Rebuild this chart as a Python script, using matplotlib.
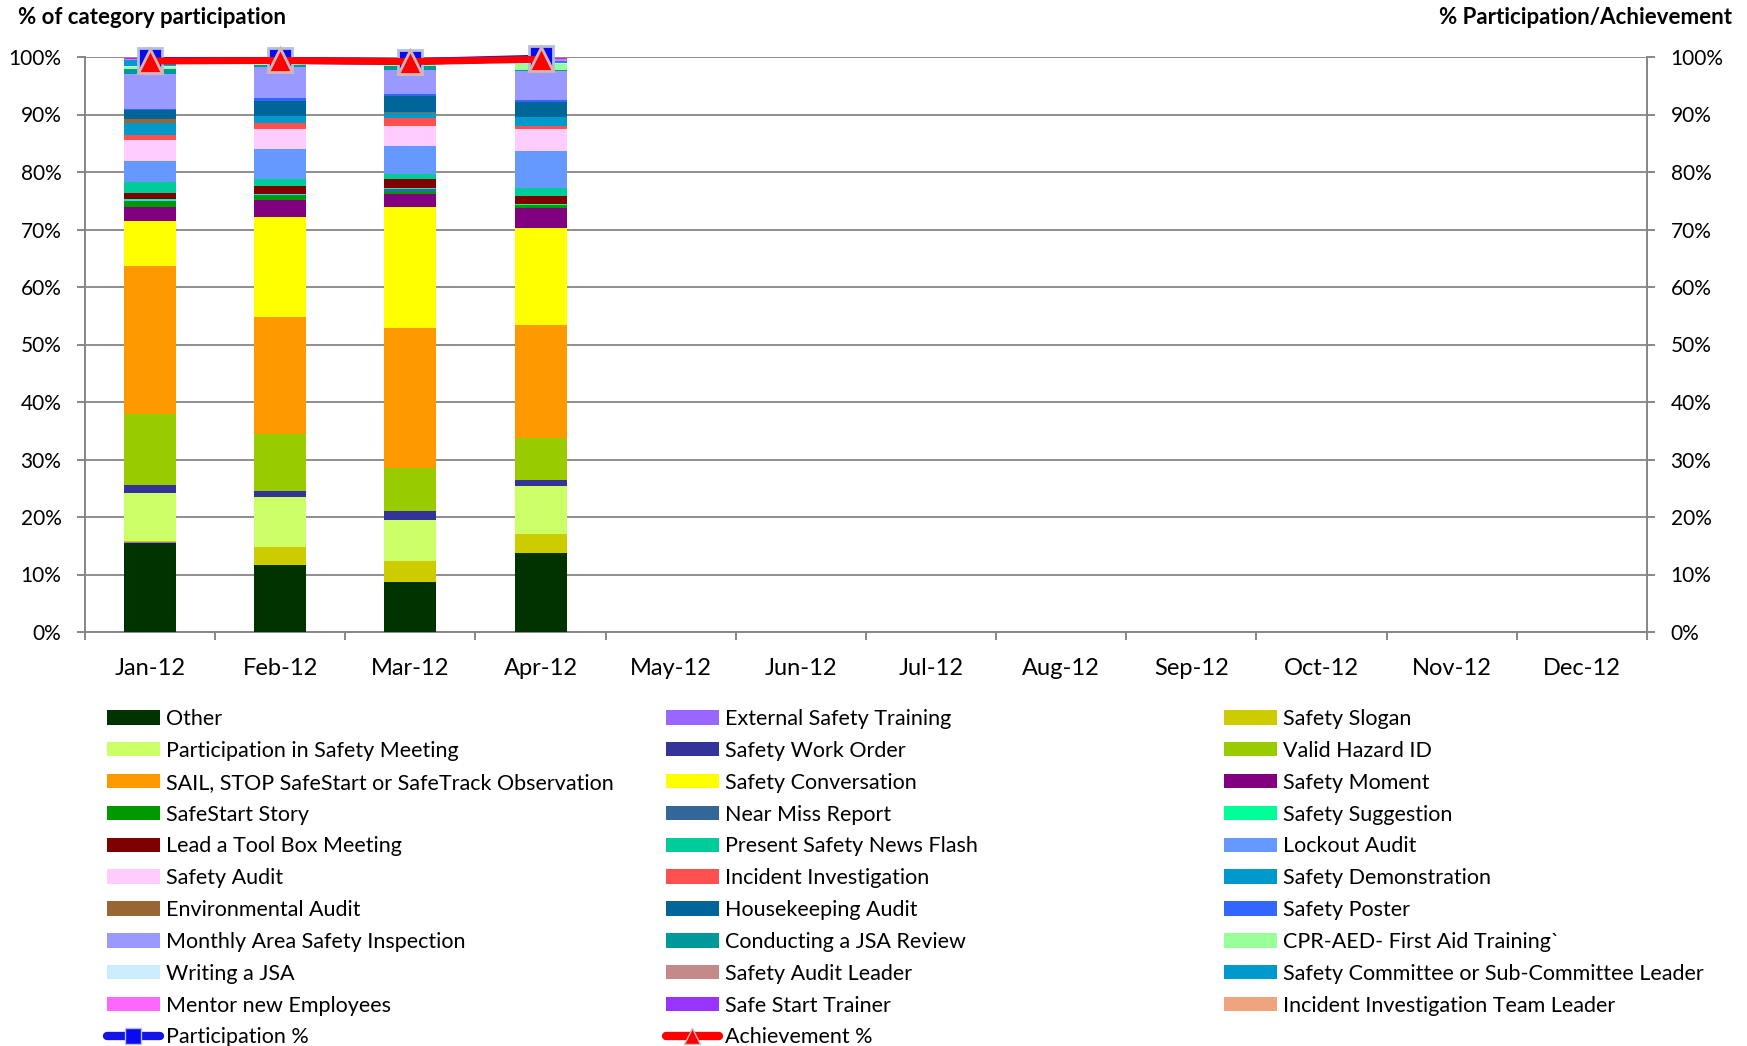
import numpy as np
import matplotlib
matplotlib.use('Agg')
import matplotlib.pyplot as plt
from matplotlib.patches import Patch
from matplotlib.lines import Line2D

plt.rcParams['font.family'] = ['Lato', 'DejaVu Sans']

# months on the x axis (only Jan-Apr have data)
months = ['Jan-12', 'Feb-12', 'Mar-12', 'Apr-12', 'May-12', 'Jun-12',
          'Jul-12', 'Aug-12', 'Sep-12', 'Oct-12', 'Nov-12', 'Dec-12']

categories = [
    'Other', 'External Safety Training', 'Safety Slogan',
    'Participation in Safety Meeting', 'Safety Work Order', 'Valid Hazard ID',
    'SAIL, STOP SafeStart or SafeTrack Observation', 'Safety Conversation', 'Safety Moment',
    'SafeStart Story', 'Near Miss Report', 'Safety Suggestion',
    'Lead a Tool Box Meeting', 'Present Safety News Flash', 'Lockout Audit',
    'Safety Audit', 'Incident Investigation', 'Safety Demonstration',
    'Environmental Audit', 'Housekeeping Audit', 'Safety Poster',
    'Monthly Area Safety Inspection', 'Conducting a JSA Review', 'CPR-AED- First Aid Training`',
    'Writing a JSA', 'Safety Audit Leader', 'Safety Committee or Sub-Committee Leader',
    'Mentor new Employees', 'Safe Start Trainer', 'Incident Investigation Team Leader',
]

colors = [
    '#003300', '#9966FF', '#CCCC00',
    '#CCFF66', '#333399', '#99CC00',
    '#FF9900', '#FFFF00', '#800080',
    '#009900', '#336699', '#00FF99',
    '#800000', '#00CC99', '#6699FF',
    '#FFCCFF', '#FF5050', '#0099CC',
    '#996633', '#006699', '#3366FF',
    '#9999FF', '#009999', '#99FF99',
    '#CCECFF', '#C48A8A', '#0099CC',
    '#FF66FF', '#9933FF', '#F0A47E',
]

# % of category participation per month (same order as categories)
jan = [15.5, 0.15, 0.15, 8.3, 1.4, 12.4, 25.8, 7.8, 2.4, 0.8, 0.3, 0.3, 1.1, 1.8, 3.8,
       3.5, 0.9, 2.1, 0.7, 1.5, 0.2, 6.1, 0.9, 0.3, 0.2, 0.1, 1.0, 0.1, 0.3, 0.0]
feb = [11.6, 0.0, 3.2, 8.7, 1.1, 9.9, 20.3, 17.4, 2.9, 0.8, 0.1, 0.1, 1.5, 1.1, 5.3,
       3.4, 1.1, 1.2, 0.1, 2.5, 0.5, 5.5, 0.3, 0.4, 0.1, 0.1, 0.5, 0.1, 0.0, 0.0]
mar = [8.7, 0.0, 3.6, 7.2, 1.5, 7.6, 24.3, 21.0, 2.3, 0.3, 0.5, 0.3, 1.4, 0.9, 5.0,
       3.4, 1.4, 0.9, 0.1, 2.8, 0.4, 4.2, 0.6, 0.3, 0.1, 0.1, 0.6, 0.0, 0.0, 0.0]
apr = [13.8, 0.0, 3.2, 8.4, 1.0, 7.4, 19.6, 16.9, 3.5, 0.4, 0.1, 0.1, 1.5, 1.4, 6.4,
       3.7, 0.6, 1.5, 0.1, 2.6, 0.4, 5.0, 0.2, 0.9, 0.2, 0.1, 0.3, 0.3, 0.2, 0.1]

participation = [99.4, 99.4, 99.2, 99.8]
achievement = [99.3, 99.4, 99.2, 99.6]

W, H = 1747, 1046
fig = plt.figure(figsize=(W / 100, H / 100), dpi=100)
ax = fig.add_axes([85 / W, 1 - 632 / H, (1647 - 85) / W, (632 - 57) / H])

gray = '#868686'
x = np.arange(len(months))
data = np.array([jan, feb, mar, apr])
xb = x[:len(data)]
bottom = np.zeros(len(data))
for i, col in enumerate(colors):
    ax.bar(xb, data[:, i], width=0.4, bottom=bottom, color=col, zorder=3)
    bottom += data[:, i]

ax.set_xlim(-0.5, 11.5)
ax.set_ylim(0, 100)
ax.set_axisbelow(True)
ax.yaxis.grid(True, color=gray, lw=1.3)
yt = np.arange(0, 101, 10)
ax.set_yticks(yt)
ax.set_yticklabels([f'{v}%' for v in yt])
ax.set_xticks(x)
ax.set_xticklabels(months)
ax.set_xticks(np.arange(-0.5, 12, 1), minor=True)
ax.tick_params(axis='x', which='major', length=0, labelsize=17, pad=19)
ax.tick_params(axis='x', which='minor', length=6, width=1.4, color=gray)
ax.tick_params(axis='y', length=6, width=1.4, color=gray, labelsize=15, pad=11)
ax.spines['top'].set_visible(False)
ax.spines['right'].set_visible(False)
for s in ['left', 'bottom']:
    ax.spines[s].set_color(gray)
    ax.spines[s].set_linewidth(1.4)

ax2 = ax.twinx()
ax2.set_ylim(0, 100)
ax2.set_yticks(yt)
ax2.set_yticklabels([f'{v}%' for v in yt])
ax2.tick_params(axis='y', length=6, width=1.4, color=gray, labelsize=15, pad=11)
for s in ['top', 'left', 'bottom']:
    ax2.spines[s].set_visible(False)
ax2.spines['right'].set_color(gray)
ax2.spines['right'].set_linewidth(1.4)

ax2.plot(xb, participation, color='#1414E8', lw=5, marker='s', ms=17,
         mfc='#0A0AF0', mec='#B4C0DC', mew=2, clip_on=False, zorder=4)
ax2.plot(xb, achievement, color='#FF0000', lw=5, marker='^', ms=17,
         mfc='#FF0000', mec='#D9B3B3', mew=2, clip_on=False, zorder=5)

fig.text(18 / W, 1 - 17 / H, '% of category participation', fontsize=16,
         fontweight='bold', ha='left', va='center')
fig.text(1732 / W, 1 - 17 / H, '% Participation/Achievement', fontsize=16,
         fontweight='bold', ha='right', va='center')

# legend, filled row by row in three columns
handles = [Patch(facecolor=c, edgecolor='none') for c in colors]
handles.append(Line2D([0], [0], color='#1414E8', lw=6, marker='s', ms=11,
                      mfc='#0A0AF0', mec='#B4C0DC', solid_capstyle='round'))
handles.append(Line2D([0], [0], color='#FF0000', lw=6, marker='^', ms=11,
                      mfc='#FF0000', mec='#D9B3B3', solid_capstyle='round'))
labels = categories + ['Participation %', 'Achievement %']

col_x = [107, 666, 1224]
for c in range(3):
    fig.legend(handles[c::3], labels[c::3], loc='upper left',
               bbox_to_anchor=(col_x[c] / W, 1 - 709 / H), frameon=False,
               fontsize=15.5, handlelength=2.45, handleheight=0.65, handletextpad=0.28,
               labelspacing=0.55, borderpad=0, borderaxespad=0)

fig.savefig('out.png', dpi=100)
